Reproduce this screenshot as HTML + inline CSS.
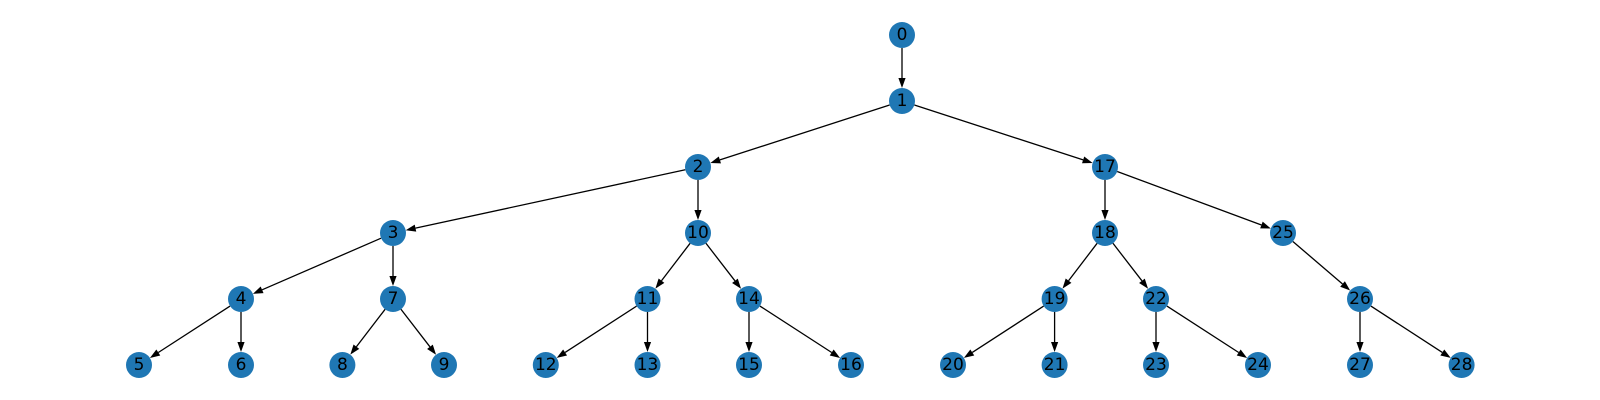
<!DOCTYPE html>
<html><head><meta charset="utf-8"><style>
html,body{margin:0;padding:0;background:#fff;width:1600px;height:400px;overflow:hidden}
svg text{font-family:"DejaVu Sans","Liberation Sans",sans-serif;font-size:17px;fill:#000;text-anchor:middle;dominant-baseline:central}
</style></head><body>
<svg id="s" width="1600" height="400" xmlns="http://www.w3.org/2000/svg">
<g id="edges"></g>
<g fill="#1f77b4">
<circle cx="902" cy="35" r="13"/><circle cx="902" cy="101" r="13"/>
<circle cx="698" cy="167" r="13"/><circle cx="1105" cy="167" r="13"/>
<circle cx="393" cy="233" r="13"/><circle cx="698" cy="233" r="13"/><circle cx="1105" cy="233" r="13"/><circle cx="1283" cy="233" r="13"/>
<circle cx="241" cy="299" r="13"/><circle cx="393" cy="299" r="13"/><circle cx="647.5" cy="299" r="13"/><circle cx="749" cy="299" r="13"/><circle cx="1054.6" cy="299" r="13"/><circle cx="1156" cy="299" r="13"/><circle cx="1360" cy="299" r="13"/>
<circle cx="139" cy="365" r="13"/><circle cx="241" cy="365" r="13"/><circle cx="342.4" cy="365" r="13"/><circle cx="444" cy="365" r="13"/><circle cx="545.8" cy="365" r="13"/><circle cx="647.5" cy="365" r="13"/><circle cx="749" cy="365" r="13"/><circle cx="851" cy="365" r="13"/><circle cx="953" cy="365" r="13"/><circle cx="1054.6" cy="365" r="13"/><circle cx="1156" cy="365" r="13"/><circle cx="1258" cy="365" r="13"/><circle cx="1360" cy="365" r="13"/><circle cx="1461.6" cy="365" r="13"/>
</g>
<g>
<text x="902" y="35">0</text><text x="902" y="101">1</text>
<text x="698" y="167">2</text><text x="1105" y="167">17</text>
<text x="393" y="233">3</text><text x="698" y="233">10</text><text x="1105" y="233">18</text><text x="1283" y="233">25</text>
<text x="241" y="299">4</text><text x="393" y="299">7</text><text x="647.5" y="299">11</text><text x="749" y="299">14</text><text x="1054.6" y="299">19</text><text x="1156" y="299">22</text><text x="1360" y="299">26</text>
<text x="139" y="365">5</text><text x="241" y="365">6</text><text x="342.4" y="365">8</text><text x="444" y="365">9</text><text x="545.8" y="365">12</text><text x="647.5" y="365">13</text><text x="749" y="365">15</text><text x="851" y="365">16</text><text x="953" y="365">20</text><text x="1054.6" y="365">21</text><text x="1156" y="365">23</text><text x="1258" y="365">24</text><text x="1360" y="365">27</text><text x="1461.6" y="365">28</text>
</g>
</svg>
<script>
var P={0:[902,35],1:[902,101],2:[698,167],17:[1105,167],3:[393,233],10:[698,233],18:[1105,233],25:[1283,233],
4:[241,299],7:[393,299],11:[647.5,299],14:[749,299],19:[1054.6,299],22:[1156,299],26:[1360,299],
5:[139,365],6:[241,365],8:[342.4,365],9:[444,365],12:[545.8,365],13:[647.5,365],15:[749,365],16:[851,365],
20:[953,365],21:[1054.6,365],23:[1156,365],24:[1258,365],27:[1360,365],28:[1461.6,365]};
var E=[[0,1],[1,2],[1,17],[2,3],[2,10],[17,18],[17,25],[3,4],[3,7],[10,11],[10,14],[18,19],[18,22],[25,26],
[4,5],[4,6],[7,8],[7,9],[11,12],[11,13],[14,15],[14,16],[19,20],[19,21],[22,23],[22,24],[26,27],[26,28]];
var g=document.getElementById('edges'),h='';
E.forEach(function(e){var a=P[e[0]],b=P[e[1]],dx=b[0]-a[0],dy=b[1]-a[1],L=Math.hypot(dx,dy),ux=dx/L,uy=dy/L;
var sx=a[0]+ux*13,sy=a[1]+uy*13,tx=b[0]-ux*13,ty=b[1]-uy*13,hl=10,hw=3.6,bx=tx-ux*hl,by=ty-uy*hl;
h+='<line x1="'+sx+'" y1="'+sy+'" x2="'+bx+'" y2="'+by+'" stroke="#000" stroke-width="1.3"/>';
h+='<polygon fill="#000" points="'+tx+','+ty+' '+(bx-uy*hw)+','+(by+ux*hw)+' '+(bx+uy*hw)+','+(by-ux*hw)+'"/>';});
g.innerHTML=h;
</script>
</body></html>
